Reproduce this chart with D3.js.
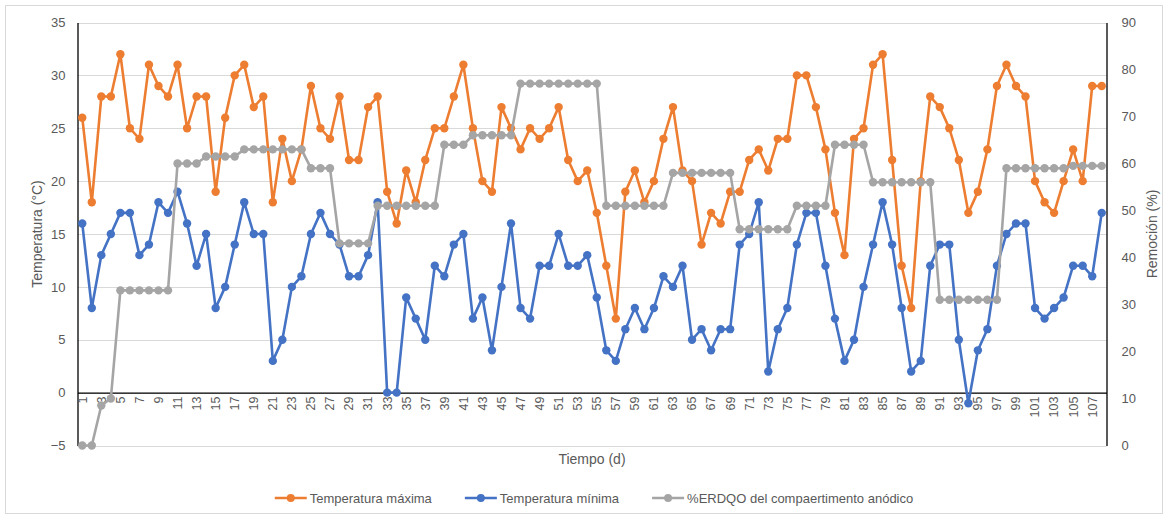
<!DOCTYPE html>
<html>
<head>
<meta charset="utf-8">
<script src="https://cdn.jsdelivr.net/npm/d3@7"></script>
<style>
  html, body { margin: 0; padding: 0; background: #fff; }
  svg { display: block; }
  text { font-family: "Liberation Sans", Arial, sans-serif; fill: #595959; }
</style>
</head>
<body>
<svg id="chart" width="1170" height="518"></svg>
<script>
// ---- Data ----
const days = d3.range(1, 109);
const tempMax = [26,18,28,28,32,25,24,31,29,28,31,25,28,28,19,26,30,31,27,28,
  18,24,20,23,29,25,24,28,22,22,27,28,19,16,21,18,22,25,25,28,
  31,25,20,19,27,25,23,25,24,25,27,22,20,21,17,12,7,19,21,18,
  20,24,27,21,20,14,17,16,19,19,22,23,21,24,24,30,30,27,23,17,
  13,24,25,31,32,22,12,8,20,28,27,25,22,17,19,23,29,31,29,28,
  20,18,17,20,23,20,29,29];
const tempMin = [16,8,13,15,17,17,13,14,18,17,19,16,12,15,8,10,14,18,15,15,
  3,5,10,11,15,17,15,14,11,11,13,18,0,0,9,7,5,12,11,14,
  15,7,9,4,10,16,8,7,12,12,15,12,12,13,9,4,3,6,8,6,
  8,11,10,12,5,6,4,6,6,14,15,18,2,6,8,14,17,17,12,7,
  3,5,10,14,18,14,8,2,3,12,14,14,5,-1,4,6,12,15,16,16,
  8,7,8,9,12,12,11,17];
const erdqo = [0,0,8.5,10,33,33,33,33,33,33,60,60,60,61.5,61.5,61.5,61.5,63,63,63,
  63,63,63,63,59,59,59,43,43,43,43,51,51,51,51,51,51,51,64,64,
  64,66,66,66,66,66,77,77,77,77,77,77,77,77,77,51,51,51,51,51,
  51,51,58,58,58,58,58,58,58,46,46,46,46,46,46,51,51,51,51,64,
  64,64,64,56,56,56,56,56,56,56,31,31,31,31,31,31,31,59,59,59,
  59,59,59,59,59.5,59.5,59.5,59.5];
const leftTicks = [-5,0,5,10,15,20,25,30,35];
const rightTicks = [0,10,20,30,40,50,60,70,80,90];
const xTickLabels = days.filter(d => d % 2 === 1);
const seriesNames = ["Temperatura máxima", "Temperatura mínima", "%ERDQO del compaertimento anódico"];
const seriesColors = ["#ED7D31", "#4472C4", "#A5A5A5"];

// ---- Layout ----
const svg = d3.select("#chart");
const L = 77.5, R = 1106.5, T = 22.5, B = 445.5;

svg.append("rect").attr("x", 5.5).attr("y", 5.5).attr("width", 1157).attr("height", 508)
  .attr("fill", "#fff").attr("stroke", "#d9d9d9").attr("stroke-width", 1);

const x = d3.scaleBand().domain(days).range([L, R]).padding(0);
const cx = d => x(d) + x.bandwidth() / 2;
const yL = d3.scaleLinear().domain([-5, 35]).range([B, T]);
const yR = d3.scaleLinear().domain([0, 90]).range([B, T]);

// gridlines
svg.append("g").selectAll("line").data(leftTicks).join("line")
  .attr("x1", L).attr("x2", R)
  .attr("y1", d => Math.round(yL(d)) + 0.5).attr("y2", d => Math.round(yL(d)) + 0.5)
  .attr("stroke", "#d9d9d9").attr("stroke-width", 1);

// left axis
const axL = svg.append("g").attr("transform", `translate(${L},0)`)
  .call(d3.axisLeft(yL).tickValues(leftTicks).tickSize(0).tickPadding(12));
axL.select(".domain").attr("stroke", "#000").attr("stroke-width", 1.3);
axL.selectAll("text").style("font-size", "13px").attr("fill", "#595959");

// right axis
const axR = svg.append("g").attr("transform", `translate(${R},0)`)
  .call(d3.axisRight(yR).tickValues(rightTicks).tickSize(0).tickPadding(15));
axR.select(".domain").attr("stroke", "#000").attr("stroke-width", 1.3);
axR.selectAll("text").style("font-size", "13px").attr("fill", "#595959");

// x axis at zero
const axX = svg.append("g").attr("transform", `translate(0,${yL(0)})`)
  .call(d3.axisBottom(x).tickValues(xTickLabels).tickSize(0).tickPadding(0));
axX.select(".domain").attr("stroke", "#000").attr("stroke-width", 1.3);
axX.selectAll("text")
  .style("font-size", "12.5px").attr("fill", "#595959")
  .attr("text-anchor", "end")
  .attr("transform", "translate(0,4) rotate(-90)")
  .attr("x", 0).attr("y", 0).attr("dy", "0.35em");

// titles
svg.append("text").attr("transform", `translate(37,${(T + B) / 2}) rotate(-90)`)
  .attr("text-anchor", "middle").attr("dy", "0.35em").style("font-size", "14px")
  .text("Temperatura (°C)");
svg.append("text").attr("transform", `translate(1152,${(T + B) / 2}) rotate(-90)`)
  .attr("text-anchor", "middle").attr("dy", "0.35em").style("font-size", "14px")
  .text("Remoción (%)");
svg.append("text").attr("x", (L + R) / 2).attr("y", 459).attr("dy", "0.35em")
  .attr("text-anchor", "middle").style("font-size", "14px").text("Tiempo (d)");

// series
const series = [
  { vals: tempMax, y: yL, color: seriesColors[0] },
  { vals: tempMin, y: yL, color: seriesColors[1] },
  { vals: erdqo, y: yR, color: seriesColors[2] }
];
series.forEach(s => {
  const pts = days.map((d, i) => [cx(d), s.y(s.vals[i])]);
  svg.append("path").datum(pts)
    .attr("d", d3.line())
    .attr("fill", "none").attr("stroke", s.color).attr("stroke-width", 2.6)
    .attr("stroke-linejoin", "round");
  svg.append("g").selectAll("circle").data(pts).join("circle")
    .attr("cx", p => p[0]).attr("cy", p => p[1]).attr("r", 4.2)
    .attr("fill", s.color);
});

// legend
const lg = svg.append("g");
let pos = 0;
seriesNames.forEach((name, i) => {
  const g = lg.append("g");
  g.append("line").attr("x1", 0).attr("x2", 32).attr("y1", 0).attr("y2", 0)
    .attr("stroke", seriesColors[i]).attr("stroke-width", 2.6);
  g.append("circle").attr("cx", 16).attr("cy", 0).attr("r", 4).attr("fill", seriesColors[i]);
  const t = g.append("text").attr("x", 35).attr("y", 0).attr("dy", "0.35em")
    .style("font-size", "13px").text(name);
  const w = 35 + t.node().getComputedTextLength();
  g.attr("transform", `translate(${pos},0)`);
  pos += w + 33;
});
const total = pos - 33;
lg.attr("transform", `translate(${594 - total / 2},498)`);
</script>
</body>
</html>
